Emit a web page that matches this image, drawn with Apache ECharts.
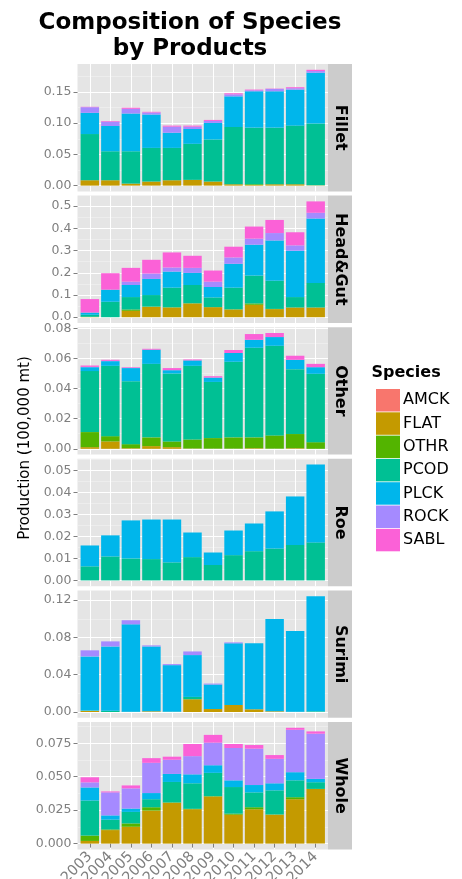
<!DOCTYPE html>
<html><head><meta charset="utf-8">
<script src="https://cdn.jsdelivr.net/npm/echarts@6/dist/echarts.min.js"></script>
<style>html,body{margin:0;padding:0;background:#fff}#c{width:462px;height:879px}</style>
</head><body><div id="c"></div>
<script>
const years = ['2003','2004','2005','2006','2007','2008','2009','2010','2011','2012','2013','2014'];
const species = ['AMCK','FLAT','OTHR','PCOD','PLCK','ROCK','SABL'];
const speciesColors = ['#F8766D','#C49A00','#53B400','#00C094','#00B6EB','#A58AFF','#FB61D7'];
const products = ['Fillet','Head&Gut','Other','Roe','Surimi','Whole'];

// Fillet
const filletFLAT = [0.0086,0.0086,0.0032,0.0065,0.0086,0.0092,0.0065,0.0022,0.0010,0.0022,0.0022,0.0005];
const filletOTHR = [0,0,0,0,0,0,0,0,0.0012,0,0,0];
const filletPCOD = [0.0740,0.0464,0.0518,0.0539,0.0518,0.0577,0.0674,0.0917,0.0906,0.0906,0.0939,0.0988];
const filletPLCK = [0.0340,0.0405,0.0605,0.0535,0.0243,0.0238,0.0265,0.0491,0.0583,0.0583,0.0577,0.0815];
const filletROCK = [0.0090,0.0070,0.0075,0.0032,0.0097,0.0037,0.0032,0.0032,0.0016,0.0038,0.0022,0.0027];
const filletSABL = [0.0006,0.0010,0.0017,0.0011,0.0017,0.0017,0.0016,0.0017,0.0011,0.0005,0.0016,0.0020];
// Head&Gut
const hgFLAT = [0.0010,0,0.0287,0.0468,0.0438,0.0619,0.0453,0.0347,0.0559,0.0363,0.0438,0.0438];
const hgOTHR = [0.0010,0,0.0060,0.0010,0.0010,0.0010,0,0.0010,0.0060,0.0010,0,0];
const hgPCOD = [0.0090,0.0695,0.0559,0.0519,0.0881,0.0821,0.0438,0.0972,0.1254,0.1268,0.0468,0.1103];
const hgPLCK = [0.0100,0.0544,0.0544,0.0725,0.0725,0.0544,0.0469,0.1073,0.1390,0.1813,0.2085,0.2900];
const hgROCK = [0,0,0.0150,0.0242,0.0182,0.0226,0.0240,0.0287,0.0272,0.0332,0.0242,0.0257];
const hgSABL = [0.0606,0.0740,0.0620,0.0619,0.0679,0.0544,0.0500,0.0483,0.0544,0.0590,0.0589,0.0513];
// Other
const otherFLAT = [0.0011,0.0049,0.0004,0.0018,0.0011,0.0002,0.0001,0.0001,0.0004,0.0001,0.0004,0];
const otherOTHR = [0.0100,0.0035,0.0027,0.0058,0.0038,0.0060,0.0070,0.0075,0.0072,0.0088,0.0094,0.0044];
const otherPCOD = [0.0405,0.0467,0.0418,0.0488,0.0451,0.0489,0.0373,0.0502,0.0595,0.0595,0.0431,0.0454];
const otherPLCK = [0.0026,0.0031,0.0087,0.0094,0.0022,0.0036,0.0029,0.0058,0.0053,0.0058,0.0062,0.0044];
const otherROCK = [0.0002,0.0002,0.0002,0,0,0,0,0,0,0,0,0];
const otherSABL = [0.0009,0.0007,0.0004,0.0006,0.0014,0.0006,0.0009,0.0020,0.0038,0.0027,0.0027,0.0022];
// Roe
const roePCOD = [0.0064,0.0109,0.0100,0.0097,0.0082,0.0106,0.0070,0.0115,0.0133,0.0145,0.0161,0.0173];
const roePLCK = [0.0095,0.0096,0.0173,0.0180,0.0195,0.0112,0.0057,0.0112,0.0126,0.0169,0.0221,0.0354];
// Surimi
const surimiFLAT = [0.0011,0,0,0.0007,0,0.0137,0.0032,0.0075,0.0029,0.0007,0,0];
const surimiPCOD = [0.0004,0.0014,0.0004,0,0.0004,0.0025,0,0,0,0,0.0003,0.0007];
const surimiPLCK = [0.0582,0.0690,0.0937,0.0697,0.0499,0.0449,0.0263,0.0662,0.0708,0.0992,0.0867,0.1236];
const surimiROCK = [0.0065,0.0054,0.0044,0.0011,0.0011,0.0039,0.0010,0.0010,0,0,0,0];
// Whole
const wholeFLAT = [0.0020,0.0101,0.0126,0.0247,0.0305,0.0257,0.0352,0.0216,0.0257,0.0216,0.0332,0.0408];
const wholeOTHR = [0.0040,0.0005,0.0025,0.0025,0.0003,0.0003,0.0003,0.0008,0.0015,0.0002,0.0015,0.0001];
const wholePCOD = [0.0262,0.0073,0.0086,0.0060,0.0153,0.0191,0.0174,0.0199,0.0111,0.0180,0.0126,0.0050];
const wholePLCK = [0.0098,0.0032,0.0025,0.0046,0.0060,0.0067,0.0057,0.0050,0.0055,0.0053,0.0061,0.0025];
const wholeROCK = [0.0038,0.0172,0.0151,0.0226,0.0106,0.0136,0.0169,0.0242,0.0272,0.0183,0.0317,0.0338];
const wholeSABL = [0.0038,0.0007,0.0022,0.0035,0.0023,0.0091,0.0058,0.0030,0.0027,0.0028,0.0015,0.0017];

// tick values / labels per panel
const filletTicks = [0, 0.05, 0.10, 0.15];
const filletLabels = ['0.00','0.05','0.10','0.15'];
const filletMinor = [0.025, 0.075, 0.125, 0.175];
const hgTicks = [0, 0.1, 0.2, 0.3, 0.4, 0.5];
const hgLabels = ['0.0','0.1','0.2','0.3','0.4','0.5'];
const hgMinor = [0.05, 0.15, 0.25, 0.35, 0.45, 0.55];
const otherTicks = [0, 0.02, 0.04, 0.06, 0.08];
const otherLabels = ['0.00','0.02','0.04','0.06','0.08'];
const otherMinor = [0.01, 0.03, 0.05, 0.07];
const roeTicks = [0, 0.01, 0.02, 0.03, 0.04, 0.05];
const roeLabels = ['0.00','0.01','0.02','0.03','0.04','0.05'];
const roeMinor = [0.005, 0.015, 0.025, 0.035, 0.045, 0.055];
const surimiTicks = [0, 0.04, 0.08, 0.12];
const surimiLabels = ['0.00','0.04','0.08','0.12'];
const surimiMinor = [0.02, 0.06, 0.10];
const wholeTicks = [0, 0.025, 0.05, 0.075];
const wholeLabels = ['0.000','0.025','0.050','0.075'];
const wholeMinor = [0.0125, 0.0375, 0.0625, 0.0875];

const zeros = years.map(() => 0);
const panels = [
  {FLAT: filletFLAT, OTHR: filletOTHR, PCOD: filletPCOD, PLCK: filletPLCK, ROCK: filletROCK, SABL: filletSABL, ticks: filletTicks, labels: filletLabels, minor: filletMinor},
  {FLAT: hgFLAT, OTHR: hgOTHR, PCOD: hgPCOD, PLCK: hgPLCK, ROCK: hgROCK, SABL: hgSABL, ticks: hgTicks, labels: hgLabels, minor: hgMinor},
  {FLAT: otherFLAT, OTHR: otherOTHR, PCOD: otherPCOD, PLCK: otherPLCK, ROCK: otherROCK, SABL: otherSABL, ticks: otherTicks, labels: otherLabels, minor: otherMinor},
  {PCOD: roePCOD, PLCK: roePLCK, ticks: roeTicks, labels: roeLabels, minor: roeMinor},
  {FLAT: surimiFLAT, PCOD: surimiPCOD, PLCK: surimiPLCK, ROCK: surimiROCK, ticks: surimiTicks, labels: surimiLabels, minor: surimiMinor},
  {FLAT: wholeFLAT, OTHR: wholeOTHR, PCOD: wholePCOD, PLCK: wholePLCK, ROCK: wholeROCK, SABL: wholeSABL, ticks: wholeTicks, labels: wholeLabels, minor: wholeMinor}
];

const FONT = 'DejaVu Sans';
const gridLeft = 77.5, gridRightX = 328, panelTop0 = 64, panelStep = 131.6, panelH = 127.4;
const plotW = gridRightX - gridLeft;
const unit = plotW / 12.2;           // ggplot discrete scale: 12 categories + 0.6 padding each side

const grids = [], xAxes = [], yAxes = [], series = [], graphics = [];
const xPos = years.map((_, j) => j + 1);
panels.forEach((p, i) => {
  const top = panelTop0 + i * panelStep;
  const last = i === panels.length - 1;
  // background grid (panel, grid lines, tick labels)
  grids.push({left: gridLeft, top: top, width: plotW, height: panelH, show: true, backgroundColor: '#E5E5E5', borderWidth: 0, containLabel: false, outerBoundsMode: 'none'});
  // bar grid (category bands)
  grids.push({left: gridLeft + 0.1 * unit, top: top, width: 12 * unit, height: panelH, show: false, containLabel: false, outerBoundsMode: 'none'});

  let maxTotal = 0;
  for (let j = 0; j < years.length; j++) {
    let s = 0;
    species.forEach(sp => { if (p[sp]) s += p[sp][j]; });
    maxTotal = Math.max(maxTotal, s);
  }
  const yMin = -0.05 * maxTotal, yMax = 1.05 * maxTotal;

  xAxes.push({
    gridIndex: 2 * i, type: 'value', min: 0.4, max: 12.6,
    axisLine: {show: false}, axisTick: {show: false, customValues: xPos},
    axisLabel: {show: false, customValues: xPos},
    splitLine: {show: true, lineStyle: {color: '#FFFFFF', width: 1}}
  });
  xAxes.push({
    gridIndex: 2 * i + 1, type: 'category', data: years, boundaryGap: true,
    axisLine: {show: false},
    axisTick: {show: last, alignWithLabel: true, interval: 0, length: 4, lineStyle: {color: '#7F7F7F'}},
    axisLabel: {show: last, interval: 0, rotate: 45, margin: 5, color: '#7F7F7F', fontSize: 14.5, fontFamily: FONT, hideOverlap: false},
    splitLine: {show: false}
  });
  yAxes.push({
    gridIndex: 2 * i, type: 'value', min: yMin, max: yMax, position: 'left',
    axisLine: {show: false},
    axisTick: {show: true, customValues: p.ticks, length: 4, lineStyle: {color: '#7F7F7F'}},
    axisLabel: {show: true, customValues: p.ticks, margin: 6, color: '#7F7F7F', fontSize: 12.5, fontFamily: FONT,
      showMinLabel: true, showMaxLabel: true,
      formatter: v => { const k = p.ticks.findIndex(t => Math.abs(t - v) < 1e-9); return k >= 0 ? p.labels[k] : ''; }},
    splitLine: {show: true, lineStyle: {color: '#FFFFFF', width: 1}}
  });
  yAxes.push({
    gridIndex: 2 * i, type: 'value', min: yMin, max: yMax, position: 'left',
    axisLine: {show: false},
    axisTick: {show: false, customValues: p.minor},
    axisLabel: {show: false, customValues: p.minor},
    splitLine: {show: true, lineStyle: {color: '#F2F2F2', width: 0.6}}
  });
  yAxes.push({
    gridIndex: 2 * i + 1, type: 'value', min: yMin, max: yMax,
    axisLine: {show: false}, axisTick: {show: false}, axisLabel: {show: false}, splitLine: {show: false}
  });
  species.forEach((sp, k) => {
    const vals = p[sp] || zeros;
    series.push({
      type: 'bar', name: sp, xAxisIndex: 2 * i + 1, yAxisIndex: 3 * i + 2, stack: 'p' + i,
      barWidth: '90%', data: vals.slice(),
      itemStyle: {color: speciesColors[k]}, emphasis: {disabled: true}, silent: true
    });
  });
  // facet strip
  graphics.push({type: 'rect', shape: {x: gridRightX, y: top, width: 24, height: panelH}, style: {fill: '#CCCCCC'}, silent: true});
  graphics.push({type: 'text', x: gridRightX + 12, y: top + panelH / 2, rotation: -Math.PI / 2,
    style: {text: products[i], fill: '#000', fontSize: 16, fontWeight: 'bold', fontFamily: FONT, align: 'center', verticalAlign: 'middle'}, silent: true});
});

graphics.push({type: 'text', x: 25, y: 448, rotation: Math.PI / 2,
  style: {text: 'Production (100,000 mt)', fill: '#000', fontSize: 15, fontFamily: FONT, align: 'center', verticalAlign: 'middle'}, silent: true});
graphics.push({type: 'text', x: 371.5, y: 373,
  style: {text: 'Species', fill: '#000', fontSize: 16, fontWeight: 'bold', fontFamily: FONT, align: 'left', verticalAlign: 'middle'}, silent: true});

const chart = echarts.init(document.getElementById('c'), null, {renderer: 'canvas', width: 462, height: 879});
chart.setOption({
  animation: false,
  backgroundColor: '#FFFFFF',
  title: {text: 'Composition of Species\nby Products', left: 185, top: 5, textAlign: 'center',
    textStyle: {fontSize: 23, fontWeight: 'bold', fontFamily: FONT, color: '#000', lineHeight: 26}},
  legend: {data: species, orient: 'vertical', left: 371, top: 384, icon: 'rect', itemWidth: 24, itemHeight: 22.5, itemGap: 0.8,
    selectedMode: false, textStyle: {fontSize: 16, fontFamily: FONT, color: '#000', lineHeight: 22, padding: [0, 0, 0, -2]}},
  grid: grids, xAxis: xAxes, yAxis: yAxes, series: series, graphic: graphics
});
</script></body></html>
